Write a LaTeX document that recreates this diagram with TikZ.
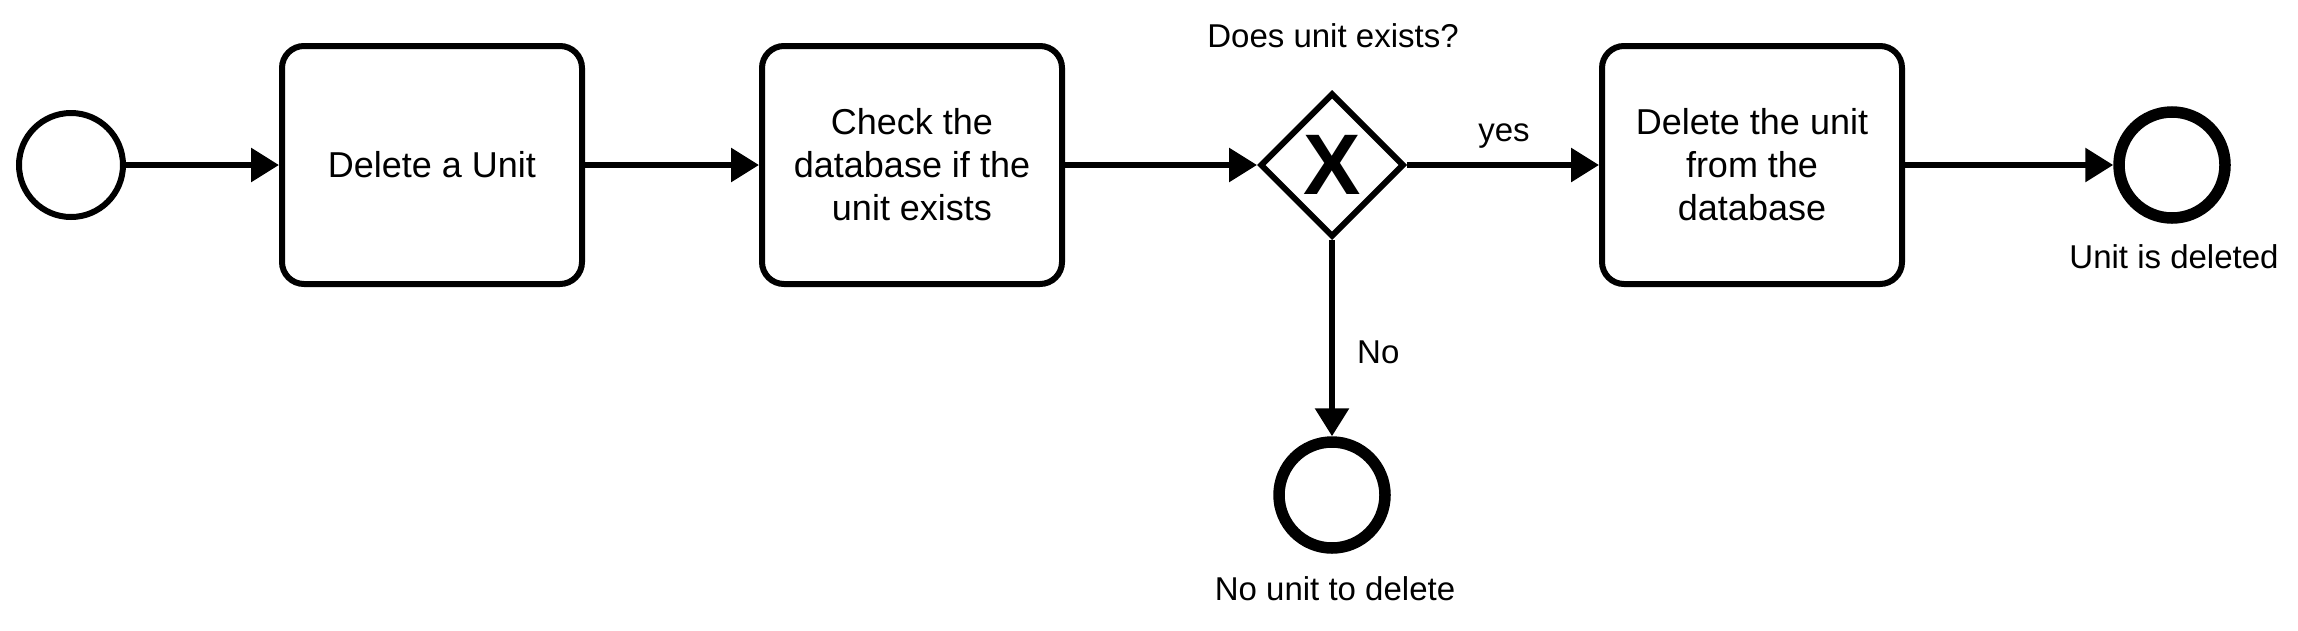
\documentclass[tikz,border=0pt]{standalone}
\usepackage{fontspec}
\setmainfont{Liberation Sans}
\usetikzlibrary{arrows.meta,shapes.geometric}
\tikzset{
  task/.style={draw, line width=6pt, rounded corners=22pt, minimum width=300pt, minimum height=238pt, inner sep=0pt, align=center, font=\fontsize{36}{43}\selectfont},
  startev/.style={draw, circle, line width=6pt, minimum size=104pt, inner sep=0pt},
  endev/.style={draw, circle, line width=11.5pt, minimum size=106pt, inner sep=0pt},
  gateway/.style={draw, diamond, aspect=1, line width=6pt, minimum size=144pt, inner sep=0pt, font=\fontsize{86}{86}\selectfont\bfseries},
  flow/.style={line width=6pt, -{Triangle[length=28pt,width=33pt]}},
  lbl/.style={font=\fontsize{33}{38}\selectfont, inner sep=0pt}
}
\begin{document}
\begin{tikzpicture}[x=1pt,y=-1pt]
\useasboundingbox (0,0) rectangle (2298,630);
\node[startev] (s) at (71,165) {};
\node[task] (t1) at (432,165) {Delete a Unit};
\node[task] (t2) at (912,165) {Check the\\database if the\\unit exists};
\node[gateway] (g) at (1332,165) {X};
\node[task] (t3) at (1752,165) {Delete the unit\\from the\\database};
\node[endev] (e1) at (2172,165) {};
\node[endev] (e2) at (1332,495) {};
\node[lbl, anchor=base] (lq) at (1333,47) {Does unit exists?};
\node[lbl, anchor=base] (ly) at (1504,141) {yes};
\node[lbl, anchor=base west] (ln) at (1357,363) {No};
\node[lbl, anchor=base] (le1) at (2174,268) {Unit is deleted};
\node[lbl, anchor=base] (le2) at (1335,600) {No unit to delete};
\draw[flow] (s) -- (t1);
\draw[flow] (t1) -- (t2);
\draw[flow] (t2) -- (g.west);
\draw[flow] (g.east) -- (t3);
\draw[flow] (t3) -- (e1);
\draw[flow] (g.south) -- (e2);
\end{tikzpicture}
\end{document}
